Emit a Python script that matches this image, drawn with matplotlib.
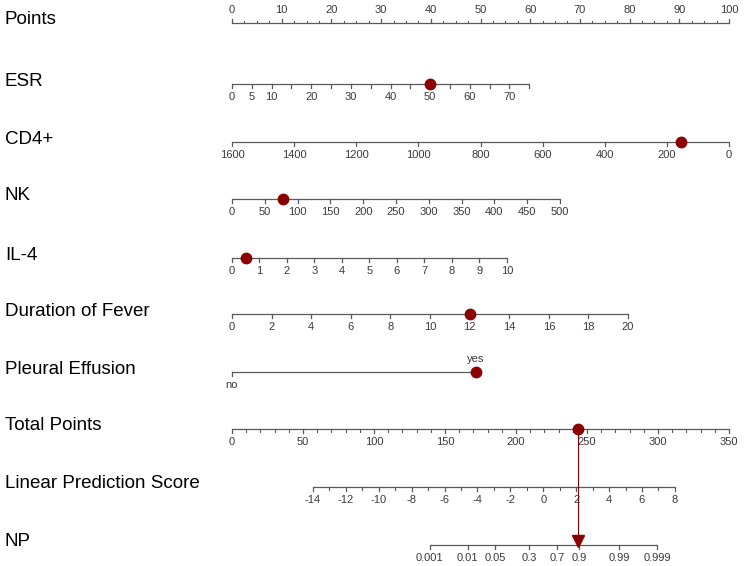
import numpy as np
import matplotlib
matplotlib.use("Agg")
import matplotlib.pyplot as plt

plt.rcParams["font.family"] = ["Liberation Sans", "DejaVu Sans"]

# ---------------- data ----------------
ROW_NAMES = ["Points", "ESR", "CD4+", "NK", "IL-4", "Duration of Fever",
             "Pleural Effusion", "Total Points", "Linear Prediction Score", "NP"]

# predictor scales: (value at start, value at end) -> (points at start, points at end)
ESR_RANGE, ESR_PTS = (0, 75), (0, 59.8)
CD4_RANGE, CD4_PTS = (1600, 0), (0, 100)
NK_RANGE, NK_PTS = (0, 500), (0, 66.0)
IL4_RANGE, IL4_PTS = (0, 10), (0, 55.3)
FEV_RANGE, FEV_PTS = (0, 20), (0, 79.7)
PE_LEVELS, PE_PTS = ["no", "yes"], [0, 49.1]
TP_MAX = 350                                  # total points axis 0..350
LP_AT_TP = ((57.0, -14.0), (311.9, 8.0))      # (total points, linear predictor)

POINTS_LABELS = [0, 10, 20, 30, 40, 50, 60, 70, 80, 90, 100]
ESR_TICKS = [0, 5, 10, 15, 20, 25, 30, 35, 40, 45, 50, 55, 60, 65, 70, 75]
ESR_LABELS = [0, 5, 10, 20, 30, 40, 50, 60, 70]
CD4_TICKS = [1600, 1400, 1200, 1000, 800, 600, 400, 200, 0]
NK_TICKS = [0, 50, 100, 150, 200, 250, 300, 350, 400, 450, 500]
IL4_TICKS = [0, 1, 2, 3, 4, 5, 6, 7, 8, 9, 10]
FEV_TICKS = [0, 2, 4, 6, 8, 10, 12, 14, 16, 18, 20]
TP_LABELS = [0, 50, 100, 150, 200, 250, 300, 350]
LP_LABELS = [-14, -12, -10, -8, -6, -4, -2, 0, 2, 4, 6, 8]
NP_TICKS = [0.001, 0.01, 0.05, 0.3, 0.7, 0.9, 0.99, 0.999]
NP_LABELS = ["0.001", "0.01", "0.05", "0.3", "0.7", "0.9", "0.99", "0.999"]

# highlighted patient
PAT_ESR, PAT_CD4, PAT_NK, PAT_IL4, PAT_FEV, PAT_PE = 50, 155, 78, 0.5, 12, "yes"
PAT_TOTAL = 244

# ---------------- scales ----------------
def lin(v, rng, pts):
    v = np.asarray(v, float)
    return pts[0] + (v - rng[0]) * (pts[1] - pts[0]) / (rng[1] - rng[0])

def tp_x(tp):
    return np.asarray(tp, float) / TP_MAX * 100

(t0, l0), (t1, l1) = LP_AT_TP
def lp_x(lp):
    return tp_x(t0 + (np.asarray(lp, float) - l0) * (t1 - t0) / (l1 - l0))

def np_x(p):
    p = np.asarray(p, float)
    return lp_x(np.log(p / (1 - p)))

# ---------------- layout ----------------
W, H = 750, 566
X0, PX = 232, 4.97          # pixel of 0 points, pixels per point
ROW_Y = [23, 84, 142, 199, 258, 314, 372, 429, 487, 545]
LINE_C, TEXT_C, DOT_C = "#5a5a5a", "#3a3a3a", "#8b0000"
TICK_FS, NAME_FS = 8, 13.5

fig = plt.figure(figsize=(W / 100, H / 100), dpi=100)
ax = fig.add_axes([0, 0, 1, 1])
ax.set_xlim(-X0 / PX, (W - X0) / PX)
ax.set_ylim(H, 0)
ax.axis("off")


def scale(y, major, labels=None, lab_pos=None, minor=(), up=False):
    xs = list(major) + list(minor)
    ax.plot([min(xs), max(xs)], [y, y], color=LINE_C, lw=0.9, solid_capstyle="butt")
    d = -1 if up else 1
    for x in major:
        ax.plot([x, x], [y, y + d * 4], color=LINE_C, lw=0.9)
    for x in minor:
        ax.plot([x, x], [y, y + d * 2.5], color=LINE_C, lw=0.8)
    if labels is not None:
        pos = major if lab_pos is None else lab_pos
        for x, s in zip(pos, labels):
            ax.text(x, y + d * 13, s, fontsize=TICK_FS, color=TEXT_C,
                    ha="center", va="center")


def dot(x, y):
    ax.plot(x, y, "o", ms=7.5, color=DOT_C, zorder=5)


for name, y in zip(ROW_NAMES, ROW_Y):
    ax.text(-X0 / PX + 5 / PX, y - 3, name, fontsize=NAME_FS, color="black",
            ha="left", va="center")

# Points
pts_minor = [v for v in np.arange(0, 100.01, 2.5) if v % 10]
scale(ROW_Y[0], POINTS_LABELS, [str(v) for v in POINTS_LABELS], minor=pts_minor, up=True)

# ESR
scale(ROW_Y[1], lin(ESR_TICKS, ESR_RANGE, ESR_PTS), [str(v) for v in ESR_LABELS],
      lab_pos=lin(ESR_LABELS, ESR_RANGE, ESR_PTS))
dot(lin(PAT_ESR, ESR_RANGE, ESR_PTS), ROW_Y[1])

# CD4+
scale(ROW_Y[2], lin(CD4_TICKS, CD4_RANGE, CD4_PTS), [str(v) for v in CD4_TICKS])
dot(lin(PAT_CD4, CD4_RANGE, CD4_PTS), ROW_Y[2])

# NK
scale(ROW_Y[3], lin(NK_TICKS, NK_RANGE, NK_PTS), [str(v) for v in NK_TICKS])
dot(lin(PAT_NK, NK_RANGE, NK_PTS), ROW_Y[3])

# IL-4
scale(ROW_Y[4], lin(IL4_TICKS, IL4_RANGE, IL4_PTS), [str(v) for v in IL4_TICKS])
dot(lin(PAT_IL4, IL4_RANGE, IL4_PTS), ROW_Y[4])

# Duration of fever
scale(ROW_Y[5], lin(FEV_TICKS, FEV_RANGE, FEV_PTS), [str(v) for v in FEV_TICKS])
dot(lin(PAT_FEV, FEV_RANGE, FEV_PTS), ROW_Y[5])

# Pleural effusion
y = ROW_Y[6]
ax.plot(PE_PTS, [y, y], color=LINE_C, lw=0.9)
ax.plot([PE_PTS[0]] * 2, [y, y + 4], color=LINE_C, lw=0.9)
ax.text(PE_PTS[0], y + 13, PE_LEVELS[0], fontsize=TICK_FS, color=TEXT_C, ha="center", va="center")
ax.text(PE_PTS[1], y - 13, PE_LEVELS[1], fontsize=TICK_FS, color=TEXT_C, ha="center", va="center")
dot(PE_PTS[PE_LEVELS.index(PAT_PE)], y)

# Total points
tp_minor = [v for v in range(0, TP_MAX + 1, 10) if v % 50]
scale(ROW_Y[7], tp_x(TP_LABELS), [str(v) for v in TP_LABELS], minor=tp_x(tp_minor))
tx = tp_x(PAT_TOTAL)
dot(tx, ROW_Y[7])

# Linear predictor
lp_minor = [v for v in range(LP_LABELS[0], LP_LABELS[-1] + 1) if v % 2]
scale(ROW_Y[8], lp_x(LP_LABELS), [str(v) for v in LP_LABELS], minor=lp_x(lp_minor))

# NP
scale(ROW_Y[9], np_x(NP_TICKS), NP_LABELS)

# pointer from total points to NP
ax.plot([tx, tx], [ROW_Y[7], ROW_Y[9] - 6], color=DOT_C, lw=0.8, zorder=4)
ax.plot(tx, ROW_Y[9] - 4, marker="v", ms=8, color=DOT_C, zorder=5)

fig.savefig("out.png", dpi=100)
